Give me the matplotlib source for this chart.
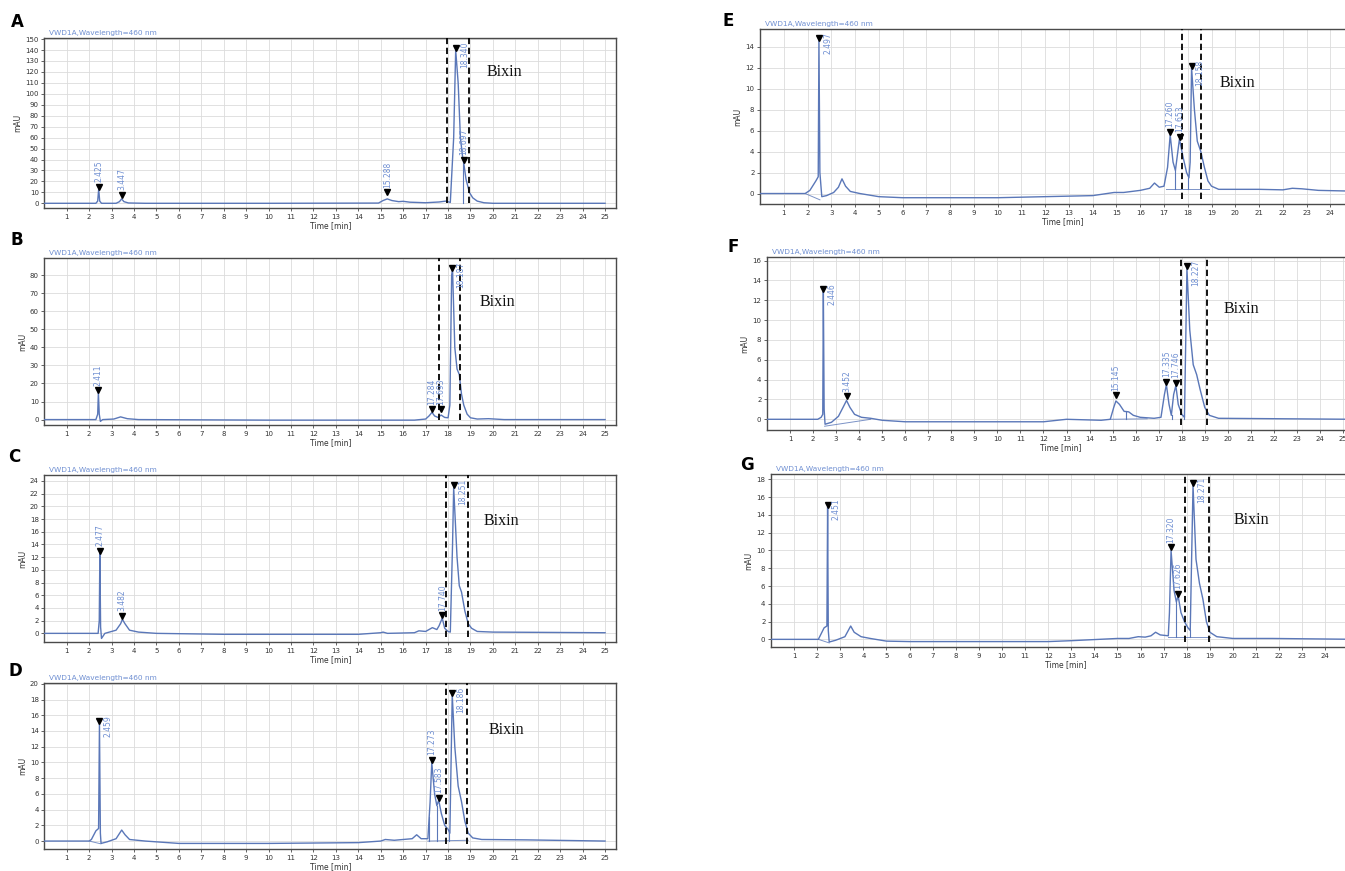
import matplotlib
matplotlib.use('Agg')
import matplotlib.pyplot as plt

# ---- traced chromatograms: time [min] / signal [mAU] ----
t_A = [0, 2.3, 2.38, 2.425, 2.47, 2.55, 3.2, 3.35, 3.447, 3.55, 3.75, 4.5, 10, 14.9, 15.1, 15.288, 15.5, 15.8,
       16.0, 16.3, 17.0, 17.6, 17.9, 18.1, 18.25, 18.34, 18.45, 18.55, 18.65, 18.697, 18.8, 18.95, 19.1, 19.3,
       19.6, 20.0, 25]
s_A = [0, 0, 2, 13, 2, 0, 0, 1.5, 4, 1.5, 0.3, 0, 0, 0.2, 2.5, 4, 2.5, 1.5,
       1.8, 1, 0.5, 1.2, 2, 0.8, 60, 140, 110, 60, 42, 37, 22, 10, 5, 2,
       0.5, 0, 0]
peaks_A = [2.425, 3.447, 15.288, 18.340, 18.697]
heights_A = [13, 5.5, 8, 140, 38]
drops_A = [(18.68, 0, 38)]
base_A = []
bixin_A = (20.5, 120)
cut_A = (17.97, 18.95)

t_B = [0, 2.3, 2.38, 2.411, 2.45, 2.5, 2.6, 3.1, 3.4, 3.7, 4.2, 10, 16.5, 17.0, 17.15, 17.284, 17.4, 17.55,
       17.69, 17.85, 18.0, 18.08, 18.16, 18.2, 18.3, 18.4, 18.5, 18.6, 18.7, 18.85, 19.0, 19.3, 19.8, 20.5, 25]
s_B = [0, 0, 3, 15, 3, -1, 0, 0.3, 1.5, 0.5, 0, -0.3, -0.3, 0.3, 2, 4, 2, 1.2,
       2.5, 1.2, 1, 8, 80, 83, 40, 28, 25, 14, 8, 3, 1, 0.3, 0.5, 0, 0]
peaks_B = [2.411, 17.284, 17.693, 18.187]
heights_B = [15, 4.5, 4.5, 83]
drops_B = []
base_B = []
bixin_B = (20.2, 65)
cut_B = (17.6, 18.52)

t_C = [0, 2.4, 2.45, 2.477, 2.51, 2.55, 2.7, 3.2, 3.4, 3.482, 3.6, 3.8, 4.2, 5, 8, 14, 15.0, 15.1, 15.3, 16.5,
       16.7, 17.0, 17.3, 17.5, 17.6, 17.74, 17.85, 18.0, 18.1, 18.2, 18.25, 18.4, 18.5, 18.6, 18.75, 18.9,
       19.05, 19.3, 20, 25]
s_C = [0, 0, 2, 12.6, 1, -0.8, 0, 0.5, 1.5, 2.2, 1.5, 0.5, 0.2, 0, -0.15, -0.15, 0.1, 0.2, 0, 0.1,
       0.4, 0.3, 0.9, 0.6, 1.2, 2.4, 0.8, 0.3, 0.2, 14, 23, 12, 7.5, 6.5, 3.5, 1.5,
       0.8, 0.3, 0.2, 0.1]
peaks_C = [2.477, 3.482, 17.740, 18.251]
heights_C = [12.6, 2.4, 2.5, 23]
drops_C = []
base_C = []
bixin_C = (20.4, 17.7)
cut_C = (17.9, 18.88)

t_D = [0, 2.0, 2.1, 2.3, 2.42, 2.459, 2.5, 2.53, 2.8, 3.2, 3.45, 3.6, 3.8, 4.5, 6, 10, 14, 15.0, 15.2, 15.6,
       16.0, 16.4, 16.6, 16.8, 17.1, 17.2, 17.273, 17.4, 17.5, 17.583, 17.7, 17.85, 18.0, 18.08, 18.186, 18.3,
       18.45, 18.6, 18.75, 18.9, 19.1, 19.5, 21.5, 25]
s_D = [0, 0, 0.2, 1.3, 1.6, 15, 1, -0.3, -0.1, 0.3, 1.4, 0.8, 0.2, 0, -0.3, -0.3, -0.2, 0, 0.2, 0.1,
       0.2, 0.3, 0.8, 0.3, 0.3, 5, 10, 6, 4.5, 5.2, 3.5, 2, 1.5, 1, 18.6, 12,
       7, 5, 2.5, 1, 0.4, 0.2, 0.15, 0]
peaks_D = [2.459, 17.273, 17.583, 18.186]
heights_D = [15, 10, 5.2, 18.6]
drops_D = [(17.15, 0, 3), (17.5, 0, 4.5), (18.05, 0, 1.1)]
base_D = [((2.0, 2.52), (0, -0.35)), ((17.1, 18.9), (0, 0.1))]
bixin_D = (20.6, 14.1)
cut_D = (17.9, 18.84)

t_E = [0, 1.9, 2.1, 2.35, 2.45, 2.48, 2.52, 2.6, 2.8, 3.1, 3.3, 3.45, 3.6, 3.8, 4.2, 5, 6, 10, 12, 14, 14.9,
       15.3, 16.0, 16.4, 16.6, 16.8, 17.0, 17.15, 17.26, 17.38, 17.48, 17.65, 17.8, 17.95, 18.05, 18.1,
       18.16, 18.28, 18.4, 18.55, 18.7, 18.85, 19.0, 19.3, 20, 21, 22, 22.4, 22.8, 23.5, 25.5]
s_E = [0, 0, 0.3, 1.2, 1.6, 14.6, 2, -0.3, -0.2, 0.1, 0.6, 1.4, 0.7, 0.2, 0, -0.3, -0.4, -0.4, -0.3, -0.2, 0.1,
       0.1, 0.3, 0.5, 1.0, 0.6, 0.7, 2.5, 5.6, 3, 2.2, 5.2, 3.5, 2, 1.5, 3,
       12, 8, 5, 4, 2.5, 1.2, 0.7, 0.4, 0.4, 0.4, 0.35, 0.5, 0.45, 0.3, 0.2]
peaks_E = [2.497, 17.260, 17.653, 18.158]
heights_E = [14.6, 5.7, 5.2, 12]
drops_E = [(17.48, 0.4, 2.2), (18.03, 0.4, 1.5)]
base_E = [((1.9, 2.52), (0, -0.6)), ((17.1, 18.9), (0.4, 0.4))]
bixin_E = (20.1, 10.5)
cut_E = (17.75, 18.55)

t_F = [0, 2.2, 2.35, 2.42, 2.446, 2.48, 2.52, 2.8, 3.1, 3.3, 3.452, 3.6, 3.8, 4.1, 4.5, 5, 6, 12, 13, 14.5,
       14.9, 15.05, 15.145, 15.3, 15.5, 15.7, 15.9, 16.2, 16.8, 17.1, 17.25, 17.335, 17.45, 17.55, 17.65,
       17.746, 17.85, 18.0, 18.12, 18.227, 18.35, 18.5, 18.65, 18.8, 19.0, 19.2, 19.6, 25.5]
s_F = [0, 0, 0.2, 0.5, 12.9, 1, -0.5, -0.3, 0.3, 1.2, 1.9, 1.2, 0.5, 0.2, 0.1, -0.1, -0.25, -0.25, 0, -0.1,
       0, 1.2, 1.85, 1.5, 0.8, 0.75, 0.4, 0.2, 0.1, 0.2, 2.5, 3.5, 1.5, 0.4, 2.5,
       3.4, 1.5, 0.5, 0.2, 15.2, 9, 5.5, 4.5, 3, 1.2, 0.4, 0.1, 0.0]
peaks_F = [2.446, 3.452, 15.145, 17.335, 17.746, 18.227]
heights_F = [12.9, 2.1, 2.2, 3.6, 3.5, 15.25]
drops_F = [(15.6, 0, 0.8), (17.6, 0, 0.4), (18.12, 0, 0.3)]
base_F = [((2.5, 4.5), (-0.7, 0.0)), ((14.9, 16.5), (0, 0.05))]
bixin_F = (20.6, 11.1)
cut_F = (17.98, 19.1)

t_G = [0, 2.05, 2.3, 2.42, 2.451, 2.48, 2.52, 2.8, 3.2, 3.45, 3.6, 3.9, 4.3, 5, 6, 12, 13, 15, 15.5, 15.9,
       16.2, 16.45, 16.65, 16.85, 17.2, 17.25, 17.32, 17.45, 17.55, 17.626, 17.75, 17.9, 18.05, 18.15, 18.271,
       18.4, 18.55, 18.7, 18.85, 19.0, 19.3, 20, 21.7, 25.5]
s_G = [0, 0, 1.3, 1.5, 14.9, 1, -0.3, -0.1, 0.3, 1.5, 0.8, 0.3, 0.1, -0.2, -0.25, -0.25, -0.15, 0.1, 0.1, 0.3,
       0.25, 0.4, 0.8, 0.5, 0.4, 3, 10, 5.5, 4.2, 4.9, 3, 2.0, 1.3, 1.0, 17.3,
       9, 6.3, 4.5, 2, 0.8, 0.3, 0.1, 0.1, 0]
peaks_G = [2.451, 17.320, 17.626, 18.271]
heights_G = [14.9, 10.1, 4.9, 17.3]
drops_G = [(17.55, 0.3, 4.2), (18.12, 0.3, 1.0)]
base_G = [((2.05, 2.52), (0, -0.4)), ((17.2, 19.0), (0.3, 0.3))]
bixin_G = (20.8, 13.4)
cut_G = (17.92, 18.95)

# y axis ranges and ticks per panel
ylim_A, yticks_A = (-4.3, 151), range(0, 151, 10)
ylim_B, yticks_B = (-3.0, 89.5), range(0, 81, 10)
ylim_C, yticks_C = (-1.36, 24.94), range(0, 25, 2)
ylim_D, yticks_D = (-1.01, 20.1), range(0, 21, 2)
ylim_E, yticks_E = (-1.0, 15.7), range(0, 15, 2)
ylim_F, yticks_F = (-1.08, 16.37), range(0, 17, 2)
ylim_G, yticks_G = (-0.86, 18.6), range(0, 19, 2)

W, H = 1345, 871
fig = plt.figure(figsize=(W / 100, H / 100), dpi=100)
fig.patch.set_facecolor('white')

def box(l, r, t, b):
    return [l / W, 1 - b / H, (r - l) / W, (b - t) / H]

# (letter, axes box in px, letter position in px, data...)
panels = [
    ('A', box(44.3, 616.3, 38, 208), (17, 22), t_A, s_A, peaks_A, heights_A, drops_A, base_A, bixin_A, cut_A, ylim_A, yticks_A),
    ('B', box(44.3, 616.3, 258, 425), (17, 240), t_B, s_B, peaks_B, heights_B, drops_B, base_B, bixin_B, cut_B, ylim_B, yticks_B),
    ('C', box(44.3, 616.3, 475, 642), (14, 457), t_C, s_C, peaks_C, heights_C, drops_C, base_C, bixin_C, cut_C, ylim_C, yticks_C),
    ('D', box(44.3, 616.3, 683, 849), (15, 671), t_D, s_D, peaks_D, heights_D, drops_D, base_D, bixin_D, cut_D, ylim_D, yticks_D),
    ('E', box(760, 1366, 29, 204), (728, 21), t_E, s_E, peaks_E, heights_E, drops_E, base_E, bixin_E, cut_E, ylim_E, yticks_E),
    ('F', box(767, 1354.5, 257, 430), (733, 247), t_F, s_F, peaks_F, heights_F, drops_F, base_F, bixin_F, cut_F, ylim_F, yticks_F),
    ('G', box(771, 1360, 474, 647), (747, 465), t_G, s_G, peaks_G, heights_G, drops_G, base_G, bixin_G, cut_G, ylim_G, yticks_G),
]

trace_col = '#5a77b8'
label_col = '#6f8fd2'

for (letter, rect, lpos, t, s, peaks, heights, drops, base, bixin, cut, ylim, yticks) in panels:
    ax = fig.add_axes(rect)
    ax.set_xlim(0, 25.5)
    ax.set_ylim(*ylim)
    ax.set_xticks(range(1, 26))
    ax.set_yticks(list(yticks))
    ax.grid(True, color='#dcdcdc', lw=0.6)
    ax.set_axisbelow(True)
    for sp in ax.spines.values():
        sp.set_color('#4a4a4a')
        sp.set_linewidth(1.0)
    ax.tick_params(direction='out', length=2.5, width=0.6, pad=1.5, labelsize=5,
                   colors='#4a4a4a', labelcolor='#333333')
    ax.set_ylabel('mAU', fontsize=5.5, labelpad=2, color='#333333')
    ax.set_xlabel('Time [min]', fontsize=5.5, labelpad=1, color='#333333')

    ax.plot(t, s, color=trace_col, lw=1.0, zorder=3)
    # integration baselines and drop lines
    for (xs, ys) in base:
        ax.plot(xs, ys, color=trace_col, lw=0.7, alpha=0.8, zorder=3)
    for (xd, y0, y1) in drops:
        ax.plot([xd, xd], [y0, y1], color=trace_col, lw=0.8, zorder=3)

    top = ylim[1]
    span = ylim[1] - ylim[0]
    for p, h in zip(peaks, heights):
        ax.plot([p], [h + 0.012 * span], marker='v', color='black', ms=4.5, zorder=5)
        if h > top - 0.25 * span:
            ax.annotate('%.3f' % p, (p, h), xytext=(3, 6), textcoords='offset points',
                        rotation=90, fontsize=5.5, color=label_col, ha='left', va='top', zorder=6)
        else:
            ax.annotate('%.3f' % p, (p, h), xytext=(0, 5), textcoords='offset points',
                        rotation=90, fontsize=5.5, color=label_col, ha='center', va='bottom', zorder=6)

    for xc in cut:
        ax.axvline(xc, ymin=0.03, ymax=1.0, color='black', lw=1.3, ls=(0, (3.5, 2)), zorder=4)

    ax.text(bixin[0], bixin[1], 'Bixin', fontsize=11.5, family='Liberation Serif',
            ha='center', va='center', color='#111111')
    ax.text(0.008, 1.01, 'VWD1A,Wavelength=460 nm', transform=ax.transAxes, fontsize=5.3,
            color=label_col, ha='left', va='bottom')

    fig.text(lpos[0] / W, 1 - lpos[1] / H, letter, fontsize=12, fontweight='bold',
             ha='center', va='center')

fig.savefig('out.png', dpi=100)
